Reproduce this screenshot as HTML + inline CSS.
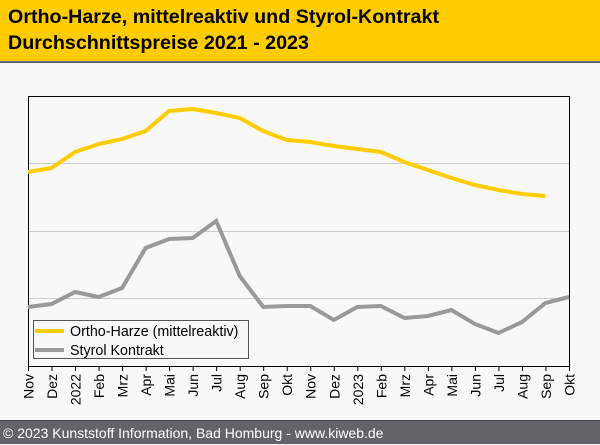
<!DOCTYPE html><html><head><style>
body{margin:0;width:600px;height:444px;background:#f8f8f8;font-family:"Liberation Sans",sans-serif;position:relative;overflow:hidden}
.h{position:absolute;left:0;top:0;width:600px;height:61px;background:#fc0;border-bottom:2px solid #666}
.h div{position:absolute;left:8px;font-weight:bold;font-size:19.7px;color:#000}
.f{position:absolute;left:0;top:420px;width:600px;height:24px;background:#646468;color:#fff;font-size:14px;line-height:24px;padding-left:3px;box-sizing:border-box;border-top:1px solid #444}
</style></head><body>
<div class="h"><div style="top:6px">Ortho-Harze, mittelreaktiv und Styrol-Kontrakt</div><div style="top:32px">Durchschnittspreise 2021 - 2023</div></div>
<svg width="600" height="444" style="position:absolute;left:0;top:0">
<g stroke="#ccc" stroke-width="1"><line x1="29" x2="569" y1="163.5" y2="163.5"/><line x1="29" x2="569" y1="231.5" y2="231.5"/><line x1="29" x2="569" y1="298.5" y2="298.5"/></g>
<path d="M28.5 96.5V366.5H569.5V96.5Z" fill="none" stroke="#000" stroke-width="1"/>
<polyline fill="none" stroke="#fc0" stroke-width="4" points="28,172 51.5,168 75,152 98.6,144 122.1,139 145.6,131 169.1,111 192.7,109 216.2,113 239.7,118 263.2,131 286.8,140 310.3,142 333.8,146 357.3,149 380.9,152 404.4,162 427.9,170 451.4,178 475,185 498.5,190 522,194 545.5,196"/>
<polyline fill="none" stroke="#999" stroke-width="4" points="28,307 51.5,304 75,292 98.6,297 122.1,288 145.6,248 169.1,239 192.7,238 216.2,221 239.7,276 263.2,307 286.8,306 310.3,306 333.8,320 357.3,307 380.9,306 404.4,318 427.9,316 451.4,310 475,324 498.5,333 522,322 545.5,303 569,297"/>
<rect x="33.5" y="320.5" width="215" height="38" fill="#f8f8f8" stroke="#555"/>
<line x1="35" x2="64" y1="331" y2="331" stroke="#fc0" stroke-width="4"/>
<line x1="35" x2="64" y1="350" y2="350" stroke="#999" stroke-width="4"/>
<text x="70" y="336" font-size="14.3" font-family="Liberation Sans" fill="#000">Ortho-Harze (mittelreaktiv)</text>
<text x="70" y="355" font-size="14.3" font-family="Liberation Sans" fill="#000">Styrol Kontrakt</text>
<g font-size="14" font-family="Liberation Sans" fill="#000" text-anchor="end" id="t"></g>
</svg>
<div class="f">© 2023 Kunststoff Information, Bad Homburg - www.kiweb.de</div>
<script>
var l=["Nov","Dez","2022","Feb","Mrz","Apr","Mai","Jun","Jul","Aug","Sep","Okt","Nov","Dez","2023","Feb","Mrz","Apr","Mai","Jun","Jul","Aug","Sep","Okt"];
var g=document.getElementById("t"),s="";
l.forEach(function(t,i){var x=28.5+i*23.52;s+='<line x1="'+x+'" x2="'+x+'" y1="366" y2="371" stroke="#000"/><text transform="translate('+(x+5)+',374) rotate(-90)">'+t+'</text>';});
g.innerHTML=s;
</script>
</body></html>
